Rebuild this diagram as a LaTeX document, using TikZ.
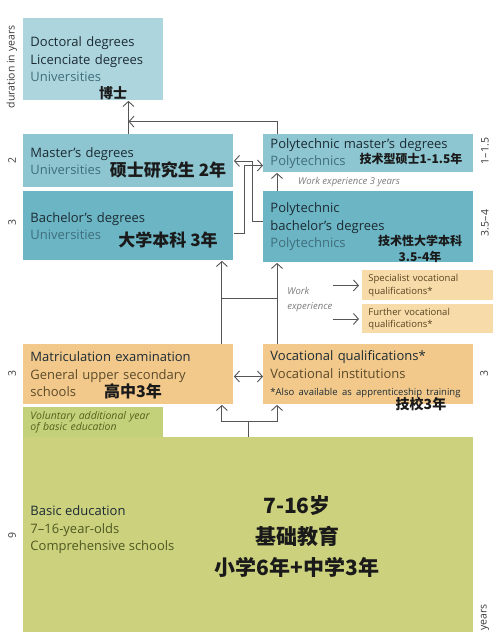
\documentclass[tikz,border=0pt]{standalone}
\usepackage{fontspec}
\setmainfont{Open Sans}
\setsansfont{Open Sans}
\newfontfamily\cjk{Noto Sans CJK SC}
\usetikzlibrary{arrows.meta, positioning, calc}
\definecolor{cdoc}{HTML}{ADD5DE}
\definecolor{cmast}{HTML}{8DC6D1}
\definecolor{cbach}{HTML}{6CB5C4}
\definecolor{cspec}{HTML}{F7DCAA}
\definecolor{cmatr}{HTML}{F2C98B}
\definecolor{cvol}{HTML}{C3D17A}
\definecolor{cbasic}{HTML}{CCD17D}
\definecolor{cmain}{HTML}{1C2B33}
\definecolor{csub}{HTML}{3F6E7C}
\definecolor{corsub}{HTML}{5B4A2A}
\definecolor{cspectext}{HTML}{5A4420}
\definecolor{cvoltext}{HTML}{56621E}
\definecolor{cgsub}{HTML}{4F5A22}
\definecolor{czh}{HTML}{1A1A1A}
\definecolor{cnote}{HTML}{7A7A7A}
\definecolor{cline}{HTML}{555555}
\definecolor{cdur}{HTML}{3A3A3A}
\tikzset{
  every picture/.style={line width=0.9pt},
  box/.style={fill=#1, anchor=north west, inner xsep=7pt, inner ysep=0pt, align=left, text=cmain},
  arrow/.style={->, draw=cline},
  link/.style={draw=cline},
  zh/.style={font=\cjk\bfseries\fontsize{#1}{#1}\selectfont, text=czh, inner sep=0pt, align=center},
  dur/.style={rotate=90, font=\fontsize{10.5}{12}\selectfont, text=cdur, inner sep=0pt},
  small/.style={font=\fontsize{9.5}{12.5}\selectfont},
  note/.style={font=\itshape\fontsize{9.5}{15}\selectfont, text=cnote, align=left, inner sep=0pt},
}

\begin{document}
\begin{tikzpicture}[x=1pt, y=-1pt, >={Straight Barb[length=5pt, width=11pt]},
  every node/.append style={font=\fontsize{13}{17.5}\selectfont}]
  \useasboundingbox (0,0) rectangle (500,632);
  \fill[white] (0,0) rectangle (500,632);
  % ---------- universities
  \node[box=cdoc, text width=126pt, minimum height=82pt] (doc) at (23,18) {Doctoral degrees\\Licenciate degrees\\{\color{csub}Universities}};
  \node[zh=14] (doczh) at (113,93) {博士};
  \node[box=cmast, text width=196pt, minimum height=53pt] (mast) at (23,134) {Master’s degrees\\{\color{csub}Universities}};
  \node[zh=17] (mastzh) at (168,170) {硕士研究生 2年};
  \node[box=cbach, text width=196pt, minimum height=69pt] (bach) at (23,191) {Bachelor’s degrees\\{\color{csub}Universities}};
  \node[zh=17] (bachzh) at (168,240) {大学本科 3年};
  % ---------- polytechnics
  \node[box=cmast, text width=196pt, minimum height=38pt] (pmast) at (263,134) {Polytechnic master’s degrees\\{\color{csub}Polytechnics}};
  \node[zh=12] (pmastzh) at (411,159) {技术型硕士1-1.5年};
  \node[note] (wexp3) at (349,182) {Work experience 3 years};
  \node[box=cbach, text width=196pt, minimum height=71pt] (pbach) at (263,191) {Polytechnic\\bachelor’s degrees\\{\color{csub}Polytechnics}};
  \node[zh=12] (pbachzh) at (420,249) {技术性大学本科\\[4pt]3.5-4年};
  % ---------- further vocational
  \node[box=cspec, small, text=cspectext, text width=119pt, inner xsep=6pt, minimum height=30pt] (spec) at (362,270) {Specialist vocational\\qualifications*};
  \node[box=cspec, small, text=cspectext, text width=119pt, inner xsep=6pt, minimum height=29pt] (furth) at (362,304) {Further vocational\\qualifications*};
  \node[note, anchor=west, font=\itshape\fontsize{9.5}{15}\selectfont] (wexp) at (287,300) {Work\\experience};
  % ---------- upper secondary
  \node[box=cmatr, text width=196pt, minimum height=60pt] (matr) at (23,344) {Matriculation examination\\{\color{corsub}General upper secondary}\\{\color{corsub}schools}};
  \node[zh=16] (matrzh) at (133,391) {高中3年};
  \node[box=cmatr, text width=196pt, minimum height=60pt] (voc) at (263,344) {Vocational qualifications*\\{\color{corsub}Vocational institutions}\\{\fontsize{9.5}{15}\selectfont *Also available as apprenticeship training}};
  \node[zh=14] (voczh) at (421,404) {技校3年};
  % ---------- basic education
  \node[box=cvol, text=cvoltext, text width=126pt, minimum height=30pt, font=\itshape\fontsize{10.5}{11}\selectfont] (volun) at (23,407) {Voluntary additional year\\of basic education};
  \node[box=cbasic, minimum width=450pt, minimum height=195pt] (basic) at (23,437) {};
  \node[anchor=west, align=left, inner sep=0pt, text=cmain] (basictxt) at (30,530) {Basic education\\{\color{cgsub}7–16-year-olds}\\{\color{cgsub}Comprehensive schools}};
  \node[zh=21] (basiczh) at (297,537) {7-16岁\\[10pt]基础教育\\[10pt]小学6年+中学3年};
  % ---------- durations
  \node[dur] (durl) at (12,67) {duration in years};
  \node[dur] (d2) at (12,160) {2};
  \node[dur] (d3a) at (12,222) {3};
  \node[dur] (d3b) at (12,373) {3};
  \node[dur] (d9) at (12,535) {9};
  \node[dur] (dpm) at (485,151) {1–1.5};
  \node[dur] (dpb) at (485,223) {3.5–4};
  \node[dur] (d3c) at (484,373) {3};
  \node[dur, anchor=east] (durr) at (485,604) {years};
  % ---------- connectors
  \draw[arrow] (mast.north) -- (mast.north |- doc.south);
  \coordinate (dj) at ($(mast.north)!0.375!(mast.north |- doc.south)$);
  \draw[arrow] ([xshift=14pt]pmast.north west) |- (dj);
  \draw[arrow] ([yshift=6pt]pbach.west) -- ++(-11,0) |- (mast.east);
  \draw[arrow] ([yshift=-7pt]bach.east) -- ++(11,0) |- ([yshift=-12pt]pmast.west);
  \draw[arrow] ([xshift=14pt]pbach.north west) -- ([xshift=14pt]pmast.south west);
  \coordinate (ma) at ([xshift=-12pt]matr.north east);
  \coordinate (va) at ([xshift=14pt]voc.north west);
  \draw[arrow] (ma) -- (ma |- bach.south);
  \draw[arrow] (va) -- (va |- pbach.south);
  \coordinate (mj) at ($(ma)!0.55!(ma |- bach.south)$);
  \draw[link] (mj) -- (mj -| va);
  \draw[arrow, shorten >=3pt] (wexp.east |- spec.west) -- (spec.west);
  \draw[arrow, shorten >=3pt] (wexp.east |- furth.west) -- (furth.west);
  \draw[arrow, <->] ([yshift=-2pt]matr.east) -- ([yshift=-2pt]voc.west);
  \coordinate (mb) at ([xshift=-12pt]matr.south east);
  \coordinate (vb) at ([xshift=14pt]voc.south west);
  \draw[link] (basic.north) -- ++(0,-16) coordinate (bj);
  \draw[arrow] (bj) -| (mb);
  \draw[arrow] (bj) -| (vb);
\end{tikzpicture}
\end{document}
